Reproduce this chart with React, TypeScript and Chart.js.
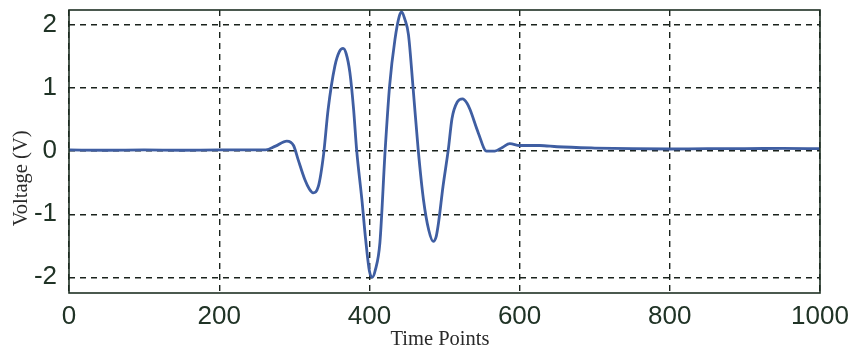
import { useEffect, useRef } from 'react';
import { Chart, registerables } from 'chart.js';

Chart.register(...registerables);

const timePoints = [
  0, 50, 100, 150, 200, 250, 262, 275, 290, 299, 305, 314, 320, 325, 332, 339, 345, 354,
  360, 365, 369, 374, 379, 383, 390, 395, 400, 404, 408, 414, 421, 427, 434, 440, 443,
  447, 452, 458, 465, 472, 479, 485, 489, 492, 498, 505, 510, 517, 524, 530, 534, 545,
  556, 567, 577, 587, 600, 627, 650, 700, 750, 800, 850, 900, 950, 1000,
];
const voltages = [
  0.02, 0.015, 0.02, 0.015, 0.02, 0.02, 0.02, 0.08, 0.16, 0.09, -0.13, -0.45, -0.6, -0.66,
  -0.56, -0.05, 0.66, 1.35, 1.58, 1.63, 1.55, 1.25, 0.66, 0.02, -0.77, -1.4, -1.9, -2.0,
  -1.88, -1.45, 0.02, 1.05, 1.77, 2.15, 2.21, 2.1, 1.85, 1.03, 0.02, -0.77, -1.25, -1.43,
  -1.35, -1.14, -0.56, 0.02, 0.52, 0.78, 0.83, 0.76, 0.66, 0.29, 0.0, 0.0, 0.06, 0.12,
  0.09, 0.09, 0.07, 0.05, 0.04, 0.035, 0.04, 0.04, 0.045, 0.04,
];
const xTickValues = [0, 200, 400, 600, 800, 1000];
const yTickValues = [-2, -1, 0, 1, 2];

const xTitle = 'Time Points';
const yTitle = 'Voltage (V)';

const frameColor = '#1f3024';
const gridColor = '#1a221c';
const lineColor = '#3f5ea2';
const tickColor = '#203326';
const titleColor = '#2a2a2a';
const tickFont = '"Liberation Sans", Arial, sans-serif';
const serifFont = '"Liberation Serif", "Times New Roman", serif';

const framePlugin = {
  id: 'frameAndTitles',
  afterDraw(chart: any) {
    const { ctx, chartArea } = chart;
    ctx.save();
    ctx.strokeStyle = frameColor;
    ctx.lineWidth = 1.6;
    ctx.setLineDash([]);
    ctx.strokeRect(chartArea.left, chartArea.top, chartArea.right - chartArea.left, chartArea.bottom - chartArea.top);

    ctx.fillStyle = titleColor;
    ctx.font = `20.5px ${serifFont}`;
    ctx.textAlign = 'center';
    ctx.textBaseline = 'alphabetic';
    ctx.fillText(xTitle, chartArea.left + (chartArea.right - chartArea.left) * 0.494, 344.5);

    ctx.translate(22, chartArea.top + (chartArea.bottom - chartArea.top) * 0.595);
    ctx.rotate(-Math.PI / 2);
    ctx.textBaseline = 'middle';
    ctx.fillText(yTitle, 0, 0);
    ctx.restore();
  },
};

export default function App() {
  const canvasRef = useRef<HTMLCanvasElement | null>(null);

  useEffect(() => {
    const canvas = canvasRef.current;
    if (!canvas) return;
    const points = timePoints.map((t, i) => ({ x: t, y: voltages[i] }));
    const chart = new Chart(canvas, {
      type: 'line',
      data: {
        datasets: [
          {
            data: points,
            borderColor: lineColor,
            borderWidth: 2.8,
            pointRadius: 0,
            fill: false,
            cubicInterpolationMode: 'monotone',
          },
        ],
      },
      options: {
        animation: false,
        responsive: false,
        devicePixelRatio: 1,
        events: [],
        layout: { padding: { top: 10, right: 28, left: 0, bottom: 0 } },
        plugins: { legend: { display: false }, tooltip: { enabled: false } },
        scales: {
          x: {
            type: 'linear',
            min: 0,
            max: 1000,
            afterBuildTicks: (s: any) => {
              s.ticks = xTickValues.map((v) => ({ value: v }));
            },
            afterFit: (s: any) => {
              s.height = 56;
              s.paddingLeft = 0;
              s.paddingRight = 0;
            },
            grid: { color: gridColor, lineWidth: 1.4, drawTicks: false },
            border: { display: false, dash: [6, 5] },
            ticks: {
              color: tickColor,
              font: { family: tickFont, size: 26 },
              padding: 8,
              maxRotation: 0,
              callback: (v: any) => String(v),
            },
          },
          y: {
            type: 'linear',
            min: -2.25,
            max: 2.24,
            afterBuildTicks: (s: any) => {
              s.ticks = yTickValues.map((v) => ({ value: v }));
            },
            afterFit: (s: any) => {
              s.width = 69;
              s.paddingTop = 0;
              s.paddingBottom = 0;
            },
            grid: { color: gridColor, lineWidth: 1.4, drawTicks: false },
            border: { display: false, dash: [6, 5] },
            ticks: {
              color: tickColor,
              font: { family: tickFont, size: 26 },
              padding: 12,
              callback: (v: any) => String(v),
            },
          },
        },
      },
      plugins: [framePlugin],
    });
    return () => chart.destroy();
  }, []);

  return (
    <div style={{ position: 'fixed', left: 0, top: 0, width: 848, height: 349, background: '#fff' }}>
      <canvas ref={canvasRef} width={848} height={349} style={{ width: 848, height: 349 }} />
    </div>
  );
}
